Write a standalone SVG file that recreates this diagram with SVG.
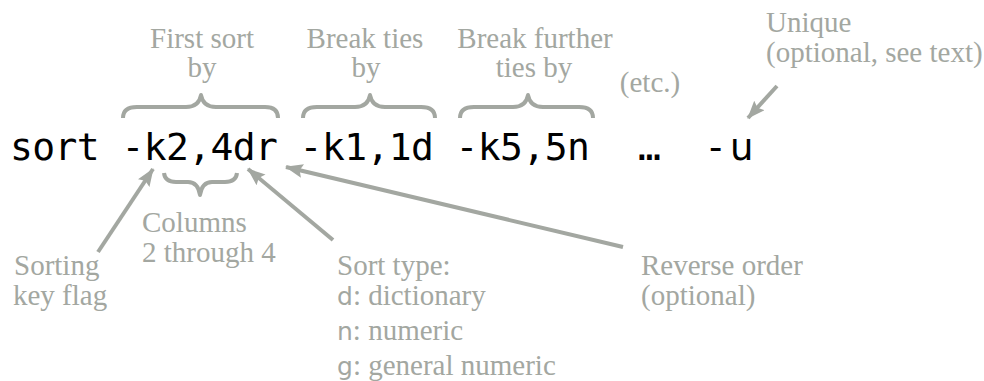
<svg xmlns="http://www.w3.org/2000/svg" width="984" height="381" viewBox="0 0 984 381">
<defs>
<style>
.code{font-family:"DejaVu Sans Mono",monospace;font-size:38px;letter-spacing:-0.6px;fill:#000}
.lbl{font-family:"Liberation Serif","Times New Roman",serif;font-size:29px;fill:#a3a7a1}
.mid{text-anchor:middle}
.sans{font-family:"DejaVu Sans",sans-serif;font-size:25px;fill:#a3a7a1}
.brace{fill:none;stroke:#a3a7a1;stroke-width:4;stroke-linejoin:round}
.arr{fill:none;stroke:#a3a7a1;stroke-width:4;marker-end:url(#ah)}
</style>
<marker id="ah" viewBox="0 0 18 14" refX="17" refY="7" markerWidth="18" markerHeight="14" markerUnits="userSpaceOnUse" orient="auto">
<path d="M0,0 L18,7 L0,14 L3,7 z" fill="#a3a7a1"/>
</marker>
</defs>
<rect width="984" height="381" fill="#fff"/>

<g id="command">
<text class="code" x="10" y="160" xml:space="preserve">sort -k2,4dr -k1,1d -k5,5n</text>
<text class="code" x="638" y="160">…</text>
<text x="709" y="160" style="font-family:'DejaVu Sans',sans-serif;font-size:37px;fill:#000">-</text>
<text x="730" y="160" style="font-family:'DejaVu Sans',sans-serif;font-size:37px;fill:#000">u</text>
</g>

<g id="first-sort">
<path class="brace" d="M123,118 Q123,107 137,107 L186,107 Q199,107 201,95 Q203,107 216,107 L265,107 Q278,107 278,118"/>
<text class="lbl mid" x="202" y="48">First sort</text>
<text class="lbl mid" x="202" y="77">by</text>
</g>

<g id="break-ties">
<path class="brace" d="M303,118 Q303,107 317,107 L355,107 Q368,107 370,95 Q372,107 385,107 L421,107 Q435,107 435,118"/>
<text class="lbl mid" x="365" y="48">Break ties</text>
<text class="lbl mid" x="366" y="77">by</text>
</g>

<g id="break-further">
<path class="brace" d="M460,118 Q460,107 474,107 L513,107 Q526,107 528,95 Q530,107 543,107 L579,107 Q593,107 593,118"/>
<text class="lbl mid" x="535" y="48">Break further</text>
<text class="lbl mid" x="534" y="77">ties by</text>
</g>

<g id="etc">
<text class="lbl mid" x="650" y="92">(etc.)</text>
</g>

<g id="unique">
<text class="lbl" x="766" y="32">Unique</text>
<text class="lbl" x="766" y="62">(optional, see text)</text>
</g>

<g id="columns">
<path class="brace" d="M164,173 Q165,182 176,182 L188,182 Q198,182 200,195 Q202,182 212,182 L225,182 Q236,182 237,173"/>
<text class="lbl" x="142" y="232">Columns</text>
<text class="lbl" x="142" y="262">2 through 4</text>
</g>

<g id="sorting-key">
<text class="lbl" x="14" y="275">Sorting</text>
<text class="lbl" x="13" y="305">key flag</text>
</g>

<g id="sort-type">
<text class="lbl" x="337" y="275">Sort type:</text>
<text x="337" y="305"><tspan class="sans">d</tspan><tspan class="lbl">: dictionary</tspan></text>
<text x="337" y="340"><tspan class="sans">n</tspan><tspan class="lbl">: numeric</tspan></text>
<text x="337" y="375"><tspan class="sans">g</tspan><tspan class="lbl">: general numeric</tspan></text>
</g>

<g id="reverse">
<text class="lbl" x="641" y="275">Reverse order</text>
<text class="lbl" x="641" y="305">(optional)</text>
</g>

<g id="connectors">
<line class="arr" x1="98" y1="252" x2="153" y2="169"/>
<line class="arr" x1="333" y1="240" x2="248" y2="169"/>
<line class="arr" x1="623" y1="247" x2="286" y2="167"/>
<line class="arr" x1="777" y1="86" x2="748" y2="118"/>
</g>
</svg>
